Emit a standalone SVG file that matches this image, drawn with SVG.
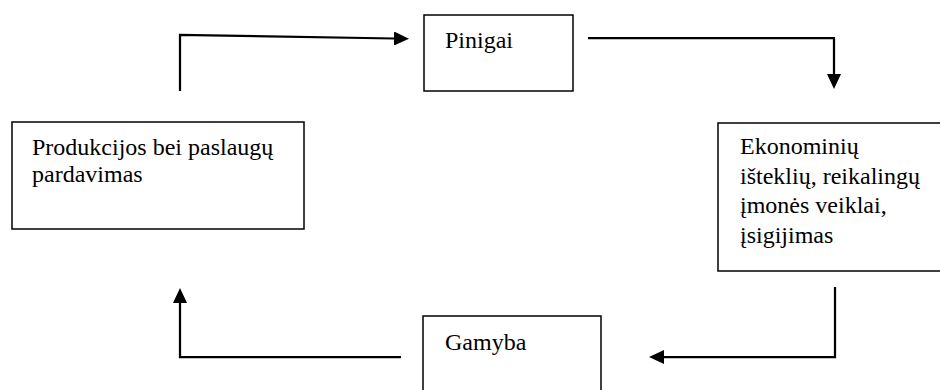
<svg xmlns="http://www.w3.org/2000/svg" width="940" height="390" viewBox="0 0 940 390">
<defs>
<marker id="ah" markerUnits="userSpaceOnUse" markerWidth="15" markerHeight="14" refX="0" refY="7" orient="auto" viewBox="0 0 15 14">
<path d="M0,0 L15,7 L0,14 z" fill="#000"/>
</marker>
<style>
.box{fill:#fff;stroke:#000;stroke-width:1.5}
.t{font-size:24px;fill:#000}
.c{fill:none;stroke:#000;stroke-width:2.25;marker-end:url(#ah)}
</style>
</defs>
<rect width="940" height="390" fill="#fff"/>
<g id="connectors">
<path class="c" d="M180,91 L180,35 L394,38.5"/>
<path class="c" d="M588,38 L834,38 L834,74"/>
<path class="c" d="M835,287 L835,357 L664,357"/>
<path class="c" d="M401,357 L180,357 L180,303"/>
</g>
<g font-family="Liberation Serif">
<g id="pinigai">
<rect class="box" x="424" y="15" width="149" height="76"/>
<text class="t" x="445" y="48">Pinigai</text>
</g>
<g id="ekonominiu">
<rect class="box" x="718" y="123" width="224" height="148"/>
<text class="t" x="740" y="154">Ekonominių</text>
<text class="t" x="740" y="183.5">išteklių, reikalingų</text>
<text class="t" x="740" y="213">įmonės veiklai,</text>
<text class="t" x="740" y="242.5">įsigijimas</text>
</g>
<g id="gamyba">
<rect class="box" x="423" y="316" width="178" height="80"/>
<text class="t" x="445" y="350">Gamyba</text>
</g>
<g id="produkcijos">
<rect class="box" x="12" y="122" width="292" height="107"/>
<text class="t" x="32" y="155">Produkcijos bei paslaugų</text>
<text class="t" x="32" y="182">pardavimas</text>
</g>
</g>
</svg>
